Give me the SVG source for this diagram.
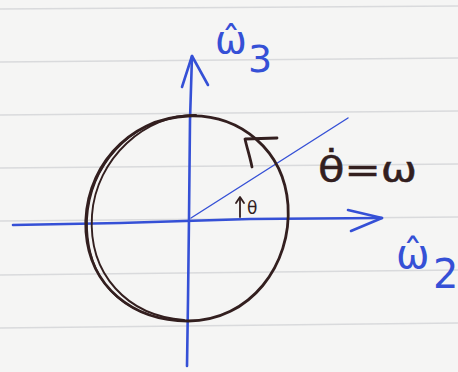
<svg xmlns="http://www.w3.org/2000/svg" width="458" height="372" viewBox="0 0 458 372">
  <style>
    .rule{stroke:#d9dadc;stroke-width:1.3;fill:none}
    .blue{stroke:#3550d6;fill:none;stroke-linecap:round;stroke-linejoin:round}
    .ink{stroke:#331f1f;fill:none;stroke-linecap:round;stroke-linejoin:round}
    .bt{fill:#3550d6;font-family:"DejaVu Sans",sans-serif}
    .it{fill:#331f1f;font-family:"DejaVu Sans",sans-serif}
  </style>
  <rect width="458" height="372" fill="#f5f5f4"/>
  <g id="paper-lines">
    <line class="rule" x1="0" y1="9" x2="458" y2="6"/>
    <line class="rule" x1="0" y1="62" x2="458" y2="58"/>
    <line class="rule" x1="0" y1="115" x2="458" y2="111"/>
    <line class="rule" x1="0" y1="168" x2="458" y2="164"/>
    <line class="rule" x1="0" y1="221" x2="458" y2="217"/>
    <line class="rule" x1="0" y1="275" x2="458" y2="270"/>
    <line class="rule" x1="0" y1="328" x2="458" y2="323"/>
  </g>
  <g id="connectors">
    <g id="axis-w2">
      <path class="blue" stroke-width="2.6" d="M13,225 L120,223 L250,219 L382,218"/>
      <path class="blue" stroke-width="2.6" d="M348,210 L382,218 L351,231"/>
    </g>
    <g id="axis-w3">
      <path class="blue" stroke-width="2.6" d="M187,366 L188,300 L189,218 L190,120 L192,56"/>
      <path class="blue" stroke-width="2.6" d="M182,87 L192,56 L208,85"/>
    </g>
    <g id="radius-line">
      <path class="blue" stroke-width="1.4" d="M191,218 L348,118"/>
    </g>
    <g id="theta-arrow">
      <path class="ink" stroke-width="1.8" d="M240,217 L240,198"/>
      <path class="ink" stroke-width="1.8" d="M236,203 L240,197 L244,203"/>
    </g>
  </g>
  <g id="circle">
    <path class="ink" stroke-width="2.8" d="M188,116 C240,114 284,150 288,205 C292,265 250,321 188,321 C132,321 90,286 86,232 C82,170 128,118 188,116 Z"/>
    <path class="ink" stroke-width="1.9" d="M196,115 C146,114 96,158 92,215 C88,275 128,316 184,320"/>
    <path class="ink" stroke-width="1.7" d="M180,117 C130,122 90,165 87,220 C86,270 110,302 150,315"/>
    <path class="ink" stroke-width="2.8" d="M252,167 C250,157 247,148 245,139 L277,138"/>
  </g>
  <g id="label-w3">
    <text class="bt" x="215" y="53" font-size="38">ω̂<tspan x="248" y="72">3</tspan></text>
  </g>
  <g id="label-w2">
    <text class="bt" x="396" y="268" font-size="40">ω̂<tspan x="433" y="288">2</tspan></text>
  </g>
  <g id="label-thetadot">
    <text class="it" x="318" y="182" font-size="36" stroke="#331f1f" stroke-width="0.5" textLength="99" lengthAdjust="spacingAndGlyphs">θ̇=ω</text>
  </g>
  <g id="label-theta">
    <text class="it" x="247" y="214" font-size="17">θ</text>
  </g>
</svg>
